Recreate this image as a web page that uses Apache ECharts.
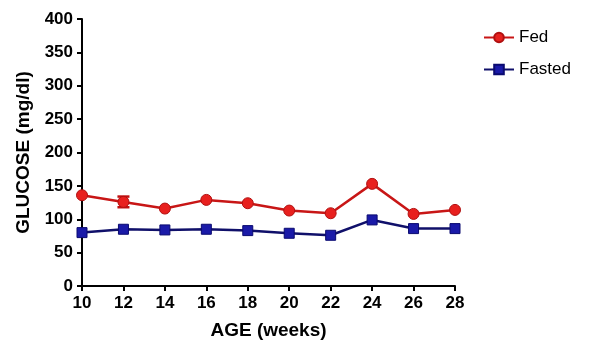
<!DOCTYPE html>
<html>
<head>
<meta charset="utf-8">
<script src="https://cdn.jsdelivr.net/npm/echarts@6/dist/echarts.min.js"></script>
<style>
  html, body { margin: 0; padding: 0; background: #fff; }
  #chart { width: 600px; height: 354px; }
</style>
</head>
<body>
<div id="chart"></div>
<script>
// Age in weeks
const ages = [10, 12, 14, 16, 18, 20, 22, 24, 26, 28];
// Mean blood glucose, mg/dl
const fed = [136, 126, 116, 129, 124, 113, 109, 153, 108, 114];
const fasted = [80, 85, 84, 85, 83, 79, 76, 99, 86, 86];
// Standard error (only visible where it exceeds the marker)
const fedErr = [0, 8, 0, 0, 0, 0, 0, 0, 0, 0];
const yTicks = [0, 50, 100, 150, 200, 250, 300, 350, 400];

const chart = echarts.init(document.getElementById('chart'), null, { renderer: 'canvas' });

const FONT = 'Liberation Sans, Arial, sans-serif';
const tickFont = { fontFamily: FONT, fontWeight: 'bold', fontSize: 17, color: '#000' };
const titleFont = { fontFamily: FONT, fontWeight: 'bold', fontSize: 19, color: '#000' };

const errData = ages.map((a, i) => [a, fed[i] - fedErr[i], fed[i] + fedErr[i]]).filter((d, i) => fedErr[i] > 0);

chart.setOption({
  animation: false,
  grid: { left: 82, right: 145, top: 19, bottom: 68, containLabel: false },
  legend: {
    orient: 'vertical',
    left: 478,
    top: 24,
    itemWidth: 30,
    itemHeight: 12,
    itemGap: 15,
    textStyle: { fontFamily: FONT, fontSize: 17, color: '#000' },
    data: ['Fed', 'Fasted']
  },
  xAxis: {
    type: 'value',
    min: 10, max: 28, interval: 2,
    name: 'AGE (weeks)',
    nameLocation: 'middle',
    nameGap: 35,
    nameTextStyle: titleFont,
    axisLine: { lineStyle: { color: '#000', width: 2 } },
    axisTick: { show: true, length: 5, lineStyle: { color: '#000', width: 2 } },
    axisLabel: Object.assign({ margin: 9 }, tickFont),
    splitLine: { show: false }
  },
  yAxis: {
    type: 'value',
    min: yTicks[0], max: yTicks[yTicks.length - 1], interval: 50,
    name: 'GLUCOSE (mg/dl)',
    nameLocation: 'middle',
    nameGap: 45,
    nameTextStyle: titleFont,
    axisLine: { show: true, lineStyle: { color: '#000', width: 2 } },
    axisTick: { show: true, length: 5, lineStyle: { color: '#000', width: 2 } },
    axisLabel: Object.assign({ margin: 9 }, tickFont),
    splitLine: { show: false }
  },
  series: [
    {
      name: 'Fed',
      type: 'line',
      data: ages.map((a, i) => [a, fed[i]]),
      symbol: 'circle',
      symbolSize: 11,
      itemStyle: { color: '#e8201e', borderColor: '#b01010', borderWidth: 1 },
      lineStyle: { color: '#c81616', width: 2.5 },
      z: 3
    },
    {
      name: 'Fasted',
      type: 'line',
      data: ages.map((a, i) => [a, fasted[i]]),
      symbol: 'rect',
      symbolSize: 10,
      itemStyle: { color: '#1a1aa8', borderColor: '#0a0a70', borderWidth: 1 },
      lineStyle: { color: '#10106a', width: 2.5 },
      z: 3
    },
    {
      name: 'FedError',
      type: 'custom',
      data: errData,
      z: 2,
      renderItem: function (params, api) {
        const x = api.value(0);
        const lo = api.coord([x, api.value(1)]);
        const hi = api.coord([x, api.value(2)]);
        const w = 6;
        const style = { stroke: '#c01010', lineWidth: 2.5 };
        return {
          type: 'group',
          children: [
            { type: 'line', shape: { x1: lo[0], y1: lo[1], x2: hi[0], y2: hi[1] }, style },
            { type: 'line', shape: { x1: lo[0] - w, y1: lo[1], x2: lo[0] + w, y2: lo[1] }, style },
            { type: 'line', shape: { x1: hi[0] - w, y1: hi[1], x2: hi[0] + w, y2: hi[1] }, style }
          ]
        };
      }
    }
  ]
});
</script>
</body>
</html>
